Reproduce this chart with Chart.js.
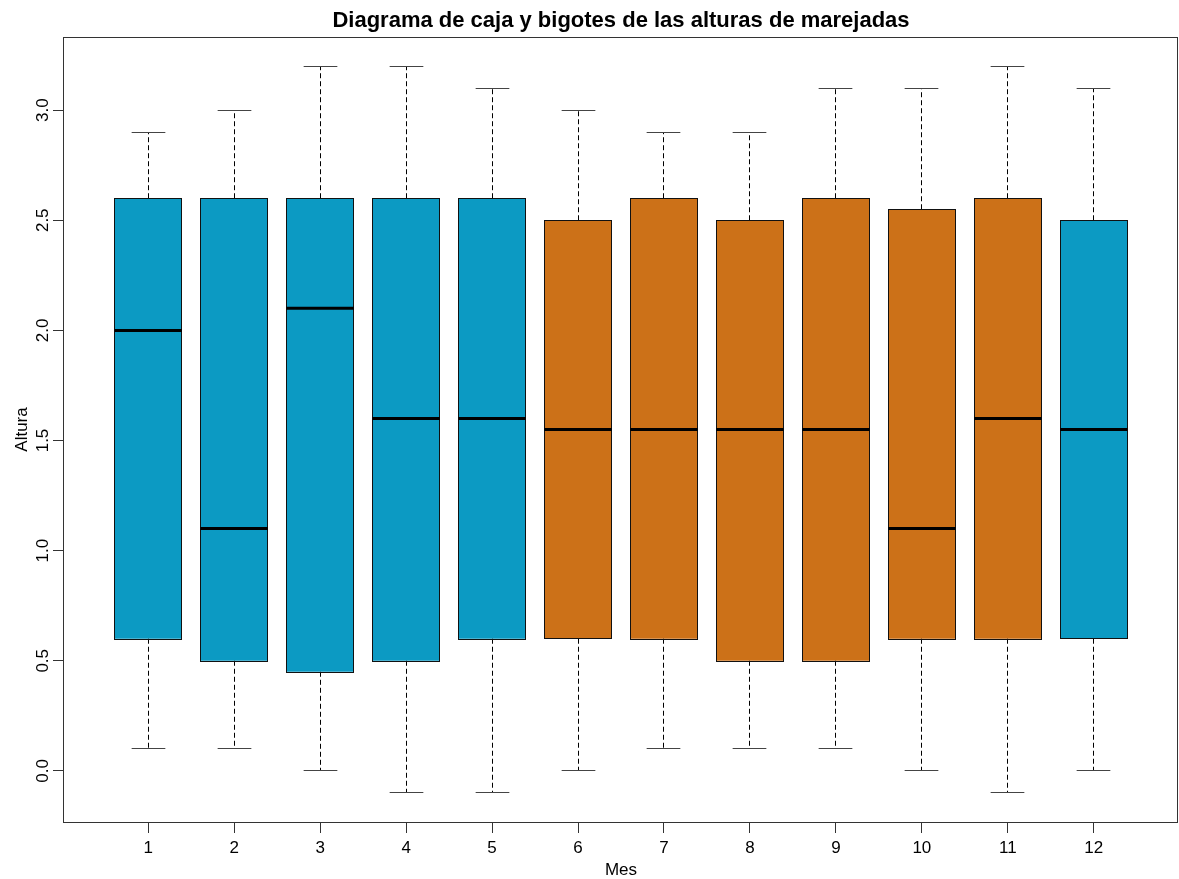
<!DOCTYPE html>
<html lang="es">
<head>
<meta charset="utf-8">
<title>Diagrama de caja y bigotes de las alturas de marejadas</title>
<script src="https://cdn.jsdelivr.net/npm/chart.js@4/dist/chart.umd.min.js"></script>
<style>
  html, body { margin: 0; padding: 0; background: #ffffff; }
  #wrap { position: relative; width: 1179px; height: 879px; }
</style>
</head>
<body>
<div id="wrap"><canvas id="grafico"></canvas></div>
<script>
// Meses y resumen de cinco números de la altura de marejadas por mes
const meses   = ['1', '2', '3', '4', '5', '6', '7', '8', '9', '10', '11', '12'];
const minimo  = [0.1, 0.1, 0.0, -0.1, -0.1, 0.0, 0.1, 0.1, 0.1, 0.0, -0.1, 0.0];
const q1      = [0.6, 0.5, 0.45, 0.5, 0.6, 0.6, 0.6, 0.5, 0.5, 0.6, 0.6, 0.6];
const mediana = [2.0, 1.1, 2.1, 1.6, 1.6, 1.55, 1.55, 1.55, 1.55, 1.1, 1.6, 1.55];
const q3      = [2.6, 2.6, 2.6, 2.6, 2.6, 2.5, 2.6, 2.5, 2.6, 2.55, 2.6, 2.5];
const maximo  = [2.9, 3.0, 3.2, 3.2, 3.1, 3.0, 2.9, 2.9, 3.1, 3.1, 3.2, 3.1];

const AZUL = '#0c9ac3';
const NARANJA = '#cc7118';
const colores = [AZUL, AZUL, AZUL, AZUL, AZUL, NARANJA, NARANJA, NARANJA, NARANJA, NARANJA, NARANJA, AZUL];

const yTicks = [0.0, 0.5, 1.0, 1.5, 2.0, 2.5, 3.0];
const yTickLabels = ['0.0', '0.5', '1.0', '1.5', '2.0', '2.5', '3.0'];

const titulo = 'Diagrama de caja y bigotes de las alturas de marejadas';
const tituloX = 'Mes';
const tituloY = 'Altura';

const FUENTE = '"Liberation Sans", Arial, Helvetica, sans-serif';

// alinea una línea de 1px con la rejilla de píxeles
const nitido = v => Math.round(v) + 0.5;

// Bigotes, medianas, ejes y textos al estilo de un boxplot clásico
const cajaBigotes = {
  id: 'cajaBigotes',
  afterDatasetsDraw(chart) {
    const ctx = chart.ctx;
    const xs = chart.scales.x;
    const ys = chart.scales.y;
    const area = chart.chartArea;
    const meta = chart.getDatasetMeta(0);

    ctx.save();
    meta.data.forEach((bar, i) => {
      const cx = nitido(bar.x - 0.5);
      const half = bar.width / 2;
      const yMin = nitido(ys.getPixelForValue(minimo[i]) - 0.5);
      const yMax = nitido(ys.getPixelForValue(maximo[i]) - 0.5);
      const yQ1 = ys.getPixelForValue(q1[i]);
      const yQ3 = ys.getPixelForValue(q3[i]);
      const yMed = ys.getPixelForValue(mediana[i]);

      // bigotes discontinuos
      ctx.strokeStyle = '#000';
      ctx.lineWidth = 1;
      ctx.setLineDash([5, 3]);
      ctx.beginPath();
      ctx.moveTo(cx, yQ3); ctx.lineTo(cx, yMax);
      ctx.moveTo(cx, yQ1); ctx.lineTo(cx, yMin);
      ctx.stroke();

      // extremos de los bigotes
      ctx.setLineDash([]);
      ctx.strokeStyle = '#444';
      ctx.beginPath();
      ctx.moveTo(cx - half / 2, yMax); ctx.lineTo(cx + half / 2, yMax);
      ctx.moveTo(cx - half / 2, yMin); ctx.lineTo(cx + half / 2, yMin);
      ctx.stroke();

      // contorno de la caja
      ctx.strokeStyle = '#111';
      ctx.lineWidth = 1;
      ctx.strokeRect(nitido(bar.x - half - 0.5), nitido(yQ3 - 0.5),
                     Math.round(bar.width), Math.round(yQ1 - yQ3));

      // mediana
      ctx.strokeStyle = '#000';
      ctx.lineWidth = 3;
      ctx.beginPath();
      ctx.moveTo(bar.x - half, yMed); ctx.lineTo(bar.x + half, yMed);
      ctx.stroke();
    });

    // marco del gráfico
    ctx.lineWidth = 1;
    ctx.strokeStyle = '#333';
    ctx.strokeRect(area.left - 0.5, area.top + 0.5, area.right - area.left, area.bottom - area.top);

    // eje X
    const tick = 11;
    ctx.beginPath();
    meses.forEach((m, i) => {
      const px = nitido(xs.getPixelForValue(i + 1) - 0.5);
      ctx.moveTo(px, area.bottom); ctx.lineTo(px, area.bottom + tick);
    });
    ctx.stroke();
    ctx.fillStyle = '#000';
    ctx.font = '17px ' + FUENTE;
    ctx.textAlign = 'center';
    ctx.textBaseline = 'alphabetic';
    meses.forEach((m, i) => {
      ctx.fillText(m, xs.getPixelForValue(i + 1), 853);
    });

    // eje Y
    ctx.beginPath();
    yTicks.forEach(v => {
      const py = nitido(ys.getPixelForValue(v) - 0.5);
      ctx.moveTo(area.left - tick, py); ctx.lineTo(area.left, py);
    });
    ctx.stroke();
    yTicks.forEach((v, i) => {
      ctx.save();
      ctx.translate(48, ys.getPixelForValue(v));
      ctx.rotate(-Math.PI / 2);
      ctx.textAlign = 'center';
      ctx.fillText(yTickLabels[i], 0, 0);
      ctx.restore();
    });

    // títulos
    const cxArea = (area.left + area.right) / 2;
    const cyArea = (area.top + area.bottom) / 2;
    ctx.fillText(tituloX, cxArea, 875);
    ctx.save();
    ctx.translate(27, cyArea);
    ctx.rotate(-Math.PI / 2);
    ctx.fillText(tituloY, 0, 0);
    ctx.restore();

    ctx.font = 'bold 22px ' + FUENTE;
    ctx.fillText(titulo, cxArea, 27);
    ctx.restore();
  }
};

new Chart(document.getElementById('grafico'), {
  type: 'bar',
  data: {
    datasets: [{
      data: meses.map((m, i) => ({ x: i + 1, y: [q1[i], q3[i]] })),
      backgroundColor: colores,
      borderWidth: 0,
      borderSkipped: false,
      barPercentage: 0.8,
      categoryPercentage: 1.0
    }]
  },
  options: {
    responsive: true,
    maintainAspectRatio: false,
    animation: false,
    layout: { padding: { left: 64, top: 37, right: 1, bottom: 57 } },
    plugins: {
      legend: { display: false },
      title: { display: false },
      tooltip: { enabled: false }
    },
    scales: {
      x: { type: 'linear', min: 0.02, max: 12.98, display: false, offset: false },
      y: { type: 'linear', min: -0.232, max: 3.332, display: false }
    }
  },
  plugins: [cajaBigotes]
});
</script>
</body>
</html>
